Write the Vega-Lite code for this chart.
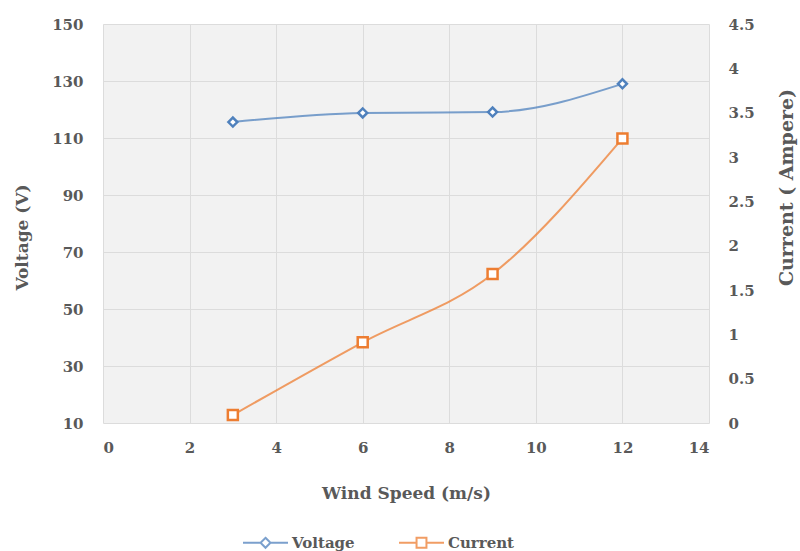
{
  "$schema": "https://vega.github.io/schema/vega-lite/v6.json",
  "width": 606,
  "height": 399,
  "autosize": {"type": "none"},
  "padding": {"left": 103, "top": 24, "right": 91, "bottom": 128},
  "background": "white",
  "config": {
    "font": "DejaVu Serif",
    "view": {"fill": "#f2f2f2", "stroke": null},
    "axis": {
      "labelFont": "DejaVu Serif", "labelFontWeight": "bold", "labelFontSize": 15, "labelColor": "#595959",
      "titleFont": "DejaVu Serif", "titleFontWeight": "bold", "titleFontSize": 17, "titleColor": "#595959",
      "domain": false, "ticks": false, "gridColor": "#dcdcdc", "gridWidth": 1
    },
    "legend": {
      "labelFont": "DejaVu Serif", "labelFontWeight": "bold", "labelFontSize": 15, "labelColor": "#595959"
    }
  },
  "data": {"values": [
    {"speed": 3, "voltage": 115.6, "current": 0.09},
    {"speed": 6, "voltage": 118.8, "current": 0.91},
    {"speed": 9, "voltage": 119.1, "current": 1.68},
    {"speed": 12, "voltage": 129.0, "current": 3.21}
  ]},
  "encoding": {
    "x": {"field": "speed", "type": "quantitative", "scale": {"domain": [0, 14], "nice": false},
      "axis": {"values": [0, 2, 4, 6, 8, 10, 12, 14], "title": "Wind Speed (m/s)", "labelPadding": 17, "titlePadding": 30}}
  },
  "layer": [
    {
      "layer": [
        {"mark": {"type": "line", "interpolate": "monotone", "strokeWidth": 2, "opacity": 0.75},
         "encoding": {"y": {"field": "voltage", "type": "quantitative"},
           "color": {"datum": "Voltage"}}},
        {"mark": {"type": "point", "shape": "diamond", "filled": false, "fill": "white", "fillOpacity": 1, "strokeWidth": 2.5, "size": 80},
         "encoding": {"y": {"field": "voltage", "type": "quantitative",
             "scale": {"domain": [10, 150], "nice": false, "zero": false},
             "axis": {"values": [10, 30, 50, 70, 90, 110, 130, 150], "title": "Voltage (V)", "orient": "left", "labelPadding": 20, "titlePadding": 20, "titleY": 213}},
           "color": {"datum": "Voltage"}}},
        {"transform": [{"filter": "datum.speed < 0"}],
         "mark": {"type": "point", "filled": false},
         "encoding": {"y": {"field": "voltage", "type": "quantitative"},
           "color": {"datum": "Voltage"},
           "shape": {"datum": "Voltage"}}}
      ]
    },
    {
      "layer": [
        {"mark": {"type": "line", "interpolate": "monotone", "strokeWidth": 2, "opacity": 0.75},
         "encoding": {"y": {"field": "current", "type": "quantitative"},
           "color": {"datum": "Current"}}},
        {"mark": {"type": "point", "shape": "square", "filled": false, "fill": "white", "fillOpacity": 1, "strokeWidth": 2.5, "size": 100},
         "encoding": {"y": {"field": "current", "type": "quantitative",
             "scale": {"domain": [0, 4.5], "nice": false},
             "axis": {"values": [0, 0.5, 1, 1.5, 2, 2.5, 3, 3.5, 4, 4.5], "format": "~g", "title": "Current ( Ampere)", "orient": "right", "grid": false, "labelPadding": 19, "titlePadding": 42, "titleAngle": 270, "titleFontSize": 19, "titleY": 163}},
           "color": {"datum": "Current", "scale": {"domain": ["Voltage", "Current"], "range": ["#4f81bd", "#ed7d31"]},
             "legend": {"orient": "none", "direction": "horizontal", "title": null, "legendX": 139, "legendY": 495,
               "symbolSize": 2025, "symbolStrokeWidth": 2, "symbolFillColor": "white", "symbolOpacity": 1, "columnPadding": 40, "labelOffset": 3}}}},
        {"transform": [{"filter": "datum.speed < 0"}],
         "mark": {"type": "point", "filled": false},
         "encoding": {"y": {"field": "current", "type": "quantitative"},
           "color": {"datum": "Current"},
           "shape": {"datum": "Current",
             "scale": {"domain": ["Voltage", "Current"], "range": ["M-1,0H-0.22M0.22,0H1M0,-0.22L0.22,0L0,0.22L-0.22,0Z", "M-1,0H-0.22M0.22,0H1M-0.22,-0.22H0.22V0.22H-0.22Z"]},
             "legend": null}}}
      ]
    }
  ],
  "resolve": {"scale": {"y": "independent"}}
}
